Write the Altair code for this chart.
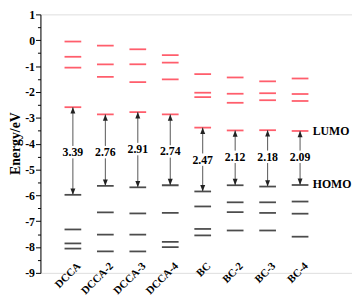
import altair as alt
import pandas as pd

names = ["DCCA", "DCCA-2", "DCCA-3", "DCCA-4", "BC", "BC-2", "BC-3", "BC-4"]
xpos = [1, 2, 3, 4, 5, 6, 7, 8]
lumo = [-2.59, -2.87, -2.78, -2.87, -3.38, -3.49, -3.48, -3.51]
homo = [-5.98, -5.63, -5.69, -5.61, -5.85, -5.61, -5.66, -5.60]
gap = [3.39, 2.76, 2.91, 2.74, 2.47, 2.12, 2.18, 2.09]
gap_label_y = [-4.33, -4.33, -4.21, -4.30, -4.62, -4.51, -4.51, -4.51]
unocc = [
    [-0.05, -0.64, -1.06],
    [-0.21, -0.93, -1.42],
    [-0.35, -0.93, -1.62],
    [-0.58, -0.87, -1.51],
    [-1.31, -2.03, -2.20],
    [-1.44, -2.07, -2.42],
    [-1.59, -2.05, -2.32],
    [-1.48, -2.08, -2.35],
]
occ = [
    [-7.32, -7.86, -8.06],
    [-6.66, -7.52, -8.17],
    [-6.70, -7.52, -8.17],
    [-6.68, -7.80, -8.00],
    [-6.43, -7.30, -7.55],
    [-6.27, -6.65, -7.36],
    [-6.27, -6.68, -7.36],
    [-6.24, -6.71, -7.60],
]
side_labels = ["LUMO", "HOMO"]
side_y = [-3.50, -5.55]
major_ticks = list(range(-9, 2))
minor_ticks = [v + 0.5 for v in range(-9, 1)]

FONT = "Liberation Serif"
RED = "#ff1a2e"

rows = []
for i in range(len(names)):
    for e in unocc[i] + [lumo[i]]:
        rows.append({"x": xpos[i], "e": e, "kind": "unocc"})
    for e in occ[i] + [homo[i]]:
        rows.append({"x": xpos[i], "e": e, "kind": "occ"})
levels = pd.DataFrame(rows)

gaps = pd.DataFrame({"x": xpos, "lumo": lumo, "homo": homo, "gap": gap, "ly": gap_label_y, "name": names})
side = pd.DataFrame({"t": side_labels, "y": side_y, "x": [xpos[-1]] * 2})
ticks_minor = pd.DataFrame({"v": minor_ticks})

xs = alt.Scale(domain=[0, 9.6], nice=False, zero=False)
ys = alt.Scale(domain=[-9, 1], nice=False, zero=False)
X = alt.X("x:Q", scale=xs, axis=None)

names_expr = "[" + ",".join("'" + n + "'" for n in names) + "][datum.value - 1]"

base_axis = alt.Chart(gaps).mark_point(opacity=0).encode(
    x=alt.X("x:Q", scale=xs, axis=alt.Axis(
        orient="bottom", values=xpos, labelExpr=names_expr, domain=False, ticks=False,
        tickSize=0, labelPadding=0, offset=-9, labelAngle=315, labelAlign="right",
        labelBaseline="middle", labelOffset=6, labelFont=FONT, labelFontSize=11,
        labelFontWeight="bold", labelColor="black", title=None, grid=False,
        labelOverlap=False, labelFlush=False)),
    y=alt.Y("homo:Q", scale=ys, axis=alt.Axis(
        orient="left", values=major_ticks, labelExpr="'' + datum.value",
        title="Energy/eV", titleFont=FONT, titleFontSize=14, titleFontWeight="bold",
        titleColor="black", titleAngle=270, titleX=-25, titleY=131, titleAlign="center",
        titleBaseline="middle",
        labelFont=FONT, labelFontSize=12, labelFontWeight="bold", labelColor="black",
        labelPadding=1, tickSize=5, tickColor="black", domainColor="black",
        grid=False)),
)
minor_axis = alt.Chart(ticks_minor).mark_point(opacity=0).encode(
    x=alt.value(0),
    y=alt.Y("v:Q", scale=ys, axis=alt.Axis(
        orient="left", values=minor_ticks, labels=False, title=None, domain=False,
        tickSize=3, tickColor="black", grid=False)),
)

Y = alt.Y("e:Q", scale=ys, axis=None)

lev = alt.Chart(levels).mark_tick(orient="horizontal", size=17, thickness=1.8).encode(
    x=X, y=Y,
    color=alt.Color("kind:N", scale=alt.Scale(domain=["unocc", "occ"], range=[RED, "black"]), legend=None),
)

seg_top = alt.Chart(gaps).transform_calculate(end="datum.ly + 0.24").mark_rule(color="#555555", strokeWidth=1).encode(
    x=X, y=alt.Y("lumo:Q", scale=ys, axis=None), y2="end:Q")
seg_bot = alt.Chart(gaps).transform_calculate(end="datum.ly - 0.24").mark_rule(color="#555555", strokeWidth=1).encode(
    x=X, y=alt.Y("end:Q", scale=ys, axis=None), y2="homo:Q")

head_up = alt.Chart(gaps).mark_point(shape="M0,0L-1,2.6L1,2.6Z", filled=True, size=25, color="#222222", opacity=1).encode(
    x=X, y=alt.Y("lumo:Q", scale=ys, axis=None))
head_down = alt.Chart(gaps).mark_point(shape="M0,0L-1,-2.6L1,-2.6Z", filled=True, size=25, color="#222222", opacity=1).encode(
    x=X, y=alt.Y("homo:Q", scale=ys, axis=None))

gap_text = alt.Chart(gaps).mark_text(font=FONT, fontSize=12, fontWeight="bold", color="black").encode(
    x=X, y=alt.Y("ly:Q", scale=ys, axis=None), text=alt.Text("gap:Q", format=".2f"))

side_text = alt.Chart(side).transform_calculate(xx="datum.x + 0.39").mark_text(
    font=FONT, fontSize=12, fontWeight="bold", color="black", align="left", baseline="middle").encode(
    x=alt.X("xx:Q", scale=xs, axis=None), y=alt.Y("y:Q", scale=ys, axis=None), text="t:N")

chart = alt.layer(
    base_axis, minor_axis, lev, seg_top, seg_bot, head_up, head_down, gap_text, side_text
).resolve_axis(y="independent", x="independent").properties(
    width=317, height=263,
    autosize=alt.AutoSizeParams(type="none"),
    padding={"left": 33, "top": 4, "right": 0, "bottom": 20},
).configure_view(stroke=None).configure(background="white")

chart.save("out.html", embed_options={"renderer": "svg", "actions": False})
